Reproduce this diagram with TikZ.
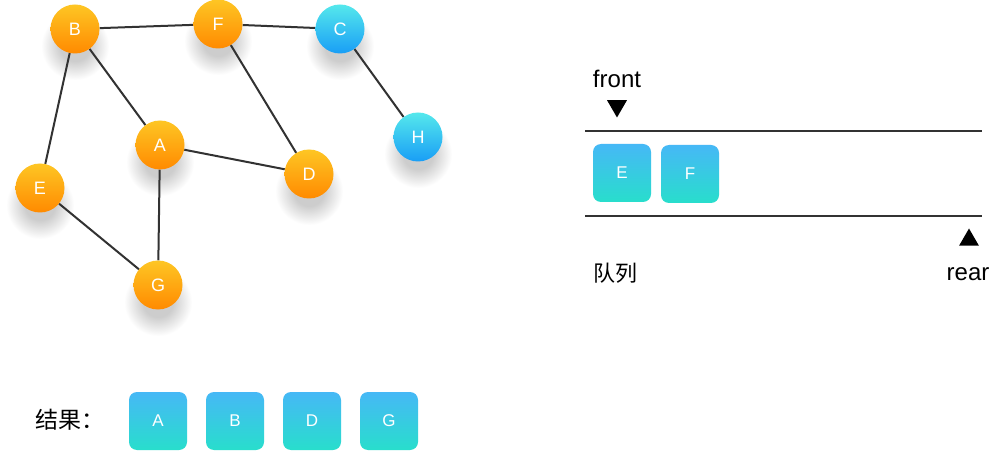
\documentclass[tikz,border=0pt]{standalone}
\usepackage{fontspec}
\setmainfont{Liberation Sans}
\newfontfamily\cjk{Noto Sans CJK SC}
\usetikzlibrary{shapes.geometric,backgrounds}
\definecolor{orTop}{RGB}{254,198,36}
\definecolor{orBot}{RGB}{255,138,0}
\definecolor{blTop}{RGB}{85,232,236}
\definecolor{blBot}{RGB}{25,158,246}
\definecolor{bxTop}{RGB}{70,184,246}
\definecolor{bxBot}{RGB}{40,222,204}
\definecolor{edgecol}{RGB}{50,50,50}
\definecolor{shadowc}{RGB}{205,205,205}
\pgfdeclareradialshading{softshadow}{\pgfpoint{0bp}{0bp}}{color(0bp)=(shadowc); color(11bp)=(shadowc); color(25bp)=(white); color(50bp)=(white)}
\tikzset{
  vtx/.style={circle,minimum size=49pt,inner sep=0pt,text=white,font=\fontsize{18}{18}\selectfont},
  orangev/.style={vtx,top color=orTop,bottom color=orBot},
  bluev/.style={vtx,top color=blTop,bottom color=blBot},
  qbox/.style={rectangle,rounded corners=8pt,minimum size=58pt,inner sep=0pt,text=white,
    top color=bxTop,bottom color=bxBot,font=\fontsize{17}{17}\selectfont},
  edge/.style={draw=edgecol,line width=2pt},
  qline/.style={draw=edgecol,line width=1.3pt},
  tri/.style={regular polygon,regular polygon sides=3,fill=black,minimum size=23pt,inner sep=0pt},
  lbl/.style={font=\fontsize{24}{24}\selectfont,text=black,inner sep=0pt},
  cjklbl/.style={font=\cjk\fontsize{22}{22}\selectfont,text=black,inner sep=0pt},
  vshadow/.style={shading=softshadow}
}
\begin{document}
\begin{tikzpicture}[x=1pt,y=-1pt]
\useasboundingbox (0,0) rectangle (1004,457);
% graph nodes
\node[orangev] (B) at (75,29) {B};
\node[orangev] (F) at (218,24) {F};
\node[bluev] (C) at (340,29) {C};
\node[bluev] (H) at (418,137) {H};
\node[orangev] (A) at (160,145) {A};
\node[orangev] (D) at (309,174) {D};
\node[orangev] (E) at (40,188) {E};
\node[orangev] (G) at (158,285) {G};
\begin{pgfonlayer}{background}
\fill[white] (0,0) rectangle (1004,457);
\foreach \v in {B,F,C,H,A,D,E,G}{
  \shade[vshadow] ([yshift=-17pt]\v.center) circle[radius=34pt];
}
\draw[edge] (B) -- (F);
\draw[edge] (F) -- (C);
\draw[edge] (C) -- (H);
\draw[edge] (B) -- (E);
\draw[edge] (B) -- (A);
\draw[edge] (F) -- (D);
\draw[edge] (A) -- (D);
\draw[edge] (A) -- (G);
\draw[edge] (E) -- (G);
\end{pgfonlayer}
% queue
\coordinate (q1l) at (585,131);
\coordinate (q1r) at (982,131);
\coordinate (q2l) at (585,216);
\coordinate (q2r) at (982,216);
\draw[qline] (q1l) -- (q1r);
\draw[qline] (q2l) -- (q2r);
\node[lbl] (front) at (617,79) {front};
\node[tri,shape border rotate=180] (ftri) at (617,106) {};
\node[qbox] (qE) at (622,173) {E};
\node[qbox] (qF) at (690,174) {F};
\node[tri] (rtri) at (969,240) {};
\node[lbl] (rear) at (968,274) {rear};
\node[cjklbl] (queue) at (615,273) {队列};
% result
\node[cjklbl,font=\cjk\fontsize{23}{23}\selectfont] (res) at (70,420) {结果：};
\node[qbox] (rA) at (158,421) {A};
\node[qbox] (rB) at (235,421) {B};
\node[qbox] (rD) at (312,421) {D};
\node[qbox] (rG) at (389,421) {G};
\end{tikzpicture}
\end{document}
